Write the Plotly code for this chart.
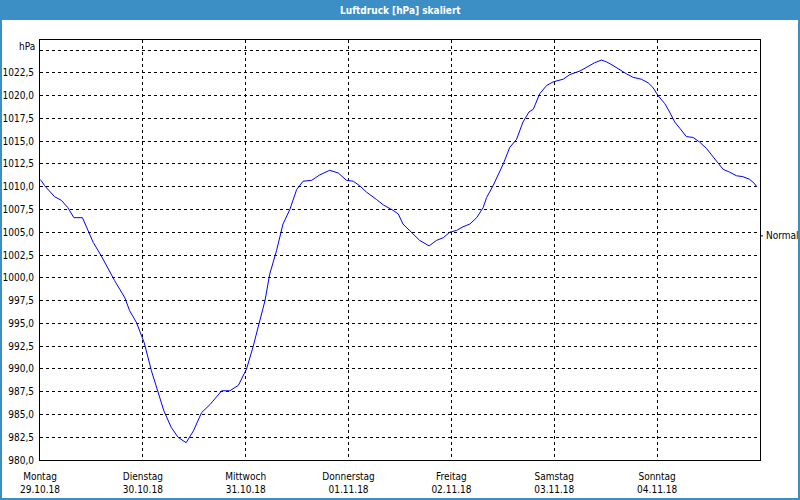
import pandas as pd
import plotly.graph_objects as go

# hours since Montag 29.10.18 00:00
hours = [0.0, 0.3, 1.1, 3.4, 5.0, 6.5, 7.9, 9.9, 11.2, 12.4, 14.3, 15.9, 17.4, 19.8, 20.9, 22.5,
         24.3, 26.0, 27.5, 28.9, 30.6, 32.2, 34.1, 35.8, 37.7, 39.7, 42.4, 44.3, 46.3,
         48.2, 49.7, 51.3, 52.5, 53.6, 55.2, 56.7, 58.3, 59.9, 61.4, 63.4, 65.3, 67.6, 69.6, 71.5,
         73.1, 74.6, 76.2, 78.5, 80.1, 82.4, 83.6, 84.7, 86.7, 88.6, 90.8, 92.5, 94.1, 95.6,
         97.2, 98.7, 100.3, 101.9, 103.4, 104.2, 105.7, 108.1, 109.6, 111.2, 112.7, 114.1, 115.1,
         116.6, 118.2, 119.7, 122.1, 123.6, 126.0, 127.9, 129.4, 131.0, 132.2, 133.7, 135.3,
         136.8, 138.4, 140.3, 141.9, 143.0, 144.2, 145.8, 146.9, 148.1, 149.3, 150.8, 152.4,
         153.9, 155.5, 156.7, 158.2, 159.4, 160.9, 162.5, 164.0, 165.6, 166.8, 167.2]
pressure = [1010.8, 1010.65, 1010.1, 1008.9, 1008.5, 1007.7, 1006.6, 1006.6, 1005.2, 1003.9, 1002.4,
            1001.0, 999.7, 997.8, 996.4, 995.1, 992.9, 989.8, 987.6, 985.4, 983.6, 982.5, 981.9,
            983.2, 985.2, 986.1, 987.6, 987.6, 988.2, 990.0, 992.4, 995.3, 997.5, 1000.4, 1003.0,
            1005.9, 1007.5, 1009.7, 1010.6, 1010.7, 1011.3, 1011.8, 1011.5, 1010.7, 1010.6, 1010.1,
            1009.4, 1008.6, 1008.0, 1007.4, 1007.0, 1005.9, 1005.0, 1004.1, 1003.5, 1004.1, 1004.4,
            1005.0, 1005.2, 1005.6, 1005.9, 1006.6, 1007.7, 1008.8, 1010.1, 1012.5, 1014.3, 1015.2,
            1017.1, 1018.2, 1018.5, 1020.2, 1021.1, 1021.5, 1021.8, 1022.3, 1022.7, 1023.2, 1023.6,
            1023.9, 1023.7, 1023.3, 1022.8, 1022.4, 1022.0, 1021.8, 1021.4, 1020.9, 1020.0, 1019.1,
            1018.2, 1017.1, 1016.4, 1015.5, 1015.4, 1014.9, 1014.2, 1013.5, 1012.5, 1011.9, 1011.6,
            1011.2, 1011.1, 1010.8, 1010.3, 1010.0]

day_dates = ["2018-10-29", "2018-10-30", "2018-10-31", "2018-11-01", "2018-11-02", "2018-11-03", "2018-11-04"]
day_names = ["Montag", "Dienstag", "Mittwoch", "Donnerstag", "Freitag", "Samstag", "Sonntag"]
day_labels = ["29.10.18", "30.10.18", "31.10.18", "01.11.18", "02.11.18", "03.11.18", "04.11.18"]

y_ticks = [980.0, 982.5, 985.0, 987.5, 990.0, 992.5, 995.0, 997.5, 1000.0, 1002.5, 1005.0,
           1007.5, 1010.0, 1012.5, 1015.0, 1017.5, 1020.0, 1022.5, 1025.0]
y_labels = [f"{v:.1f}".replace(".", ",") for v in y_ticks[:-1]] + [""]
normal_value = 1004.6

start = pd.Timestamp("2018-10-29")
times = [start + pd.Timedelta(hours=h) for h in hours]

FONT = "DejaVu Sans Condensed, Liberation Sans, sans-serif"
BLUE = "#3b8fc4"

fig = go.Figure()
fig.add_trace(go.Scatter(x=times, y=pressure, mode="lines",
                         line=dict(color="#0000ff", width=1), hoverinfo="skip"))

fig.update_layout(
    width=800, height=500,
    margin=dict(l=40, r=40, t=40, b=40),
    paper_bgcolor="white", plot_bgcolor="white",
    showlegend=False,
    font=dict(family=FONT, size=10, color="#000000"),
    xaxis=dict(
        type="date", range=["2018-10-29", "2018-11-05"],
        tickvals=day_dates,
        ticktext=[f"{n}<br>{d}" for n, d in zip(day_names, day_labels)],
        showgrid=True, gridcolor="black", gridwidth=1, griddash="3px,3px",
        showline=True, linecolor="black", linewidth=1, mirror=True,
        ticks="", zeroline=False, ticklabelstandoff=7, automargin=False,
    ),
    yaxis=dict(
        range=[980, 1026.1],
        tickvals=y_ticks, ticktext=y_labels,
        showgrid=True, gridcolor="black", gridwidth=1, griddash="3px,3px",
        showline=True, linecolor="black", linewidth=1, mirror=True,
        ticks="", zeroline=False, ticklabelstandoff=3, automargin=False,
    ),
    shapes=[
        dict(type="rect", xref="paper", yref="paper", x0=-40/720, x1=760/720,
             y0=1 + 20/420, y1=1 + 40/420, fillcolor=BLUE, line=dict(width=0), layer="below"),
        dict(type="rect", xref="paper", yref="paper", x0=-39/720, x1=759/720,
             y0=-39/420, y1=1 + 39/420, fillcolor="rgba(0,0,0,0)", line=dict(color=BLUE, width=2)),
        dict(type="line", xref="paper", yref="y", x0=1, x1=1 + 3/720,
             y0=normal_value, y1=normal_value, line=dict(color="black", width=1)),
    ],
    annotations=[
        dict(text="<b>Luftdruck [hPa] skaliert</b>", xref="paper", yref="paper",
             x=0.5, y=1 + 30/420, xanchor="center", yanchor="middle", showarrow=False,
             font=dict(family=FONT, size=10, color="white")),
        dict(text="hPa", xref="paper", yref="y", x=0, y=1025, xanchor="right", yanchor="middle",
             xshift=-3, yshift=4, showarrow=False, font=dict(family=FONT, size=10)),
        dict(text="Normal", xref="paper", yref="y", x=1, y=normal_value, xanchor="left",
             yanchor="middle", xshift=4, showarrow=False, font=dict(family=FONT, size=10)),
    ],
)

fig.write_html("out.html")
